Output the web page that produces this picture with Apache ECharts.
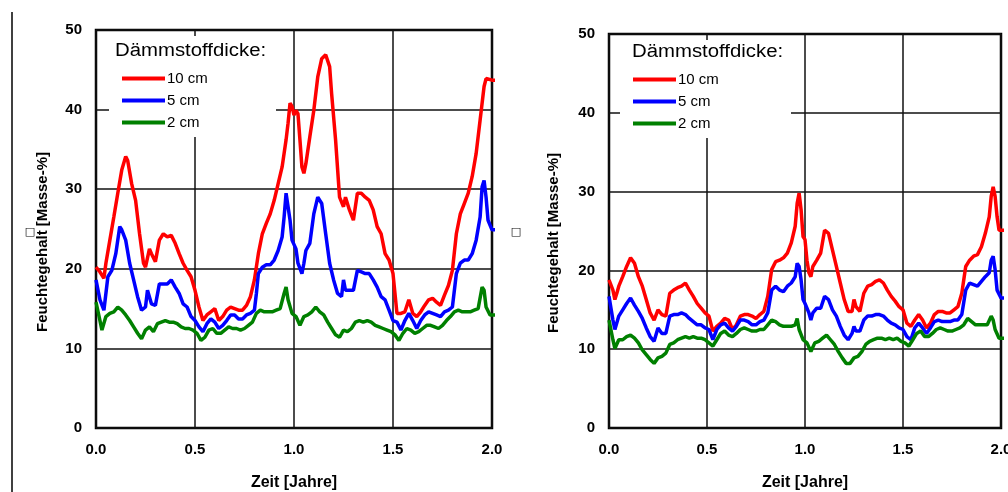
<!DOCTYPE html>
<html>
<head>
<meta charset="utf-8">
<script src="https://cdn.jsdelivr.net/npm/echarts@6/dist/echarts.min.js"></script>
<style>html,body{margin:0;padding:0;background:#fff;}#c{width:1008px;height:492px;}</style>
</head>
<body>
<div id="c"></div>
<script>
// ---- data (time in years, moisture in Masse-%) ----
const seriesNames = ['10 cm', '5 cm', '2 cm'];
const xTicks = [0, 0.5, 1.0, 1.5, 2.0];
const yTicks = [0, 10, 20, 30, 40, 50];

// left chart
const L10 = [[0,20.2],[0.02,19.6],[0.04,18.8],[0.05,20.7],[0.07,23.6],[0.09,26.5],[0.11,29.5],[0.13,32.4],[0.15,34.1],[0.16,33.6],[0.18,30.7],[0.2,28.6],[0.22,24.4],[0.24,20.7],[0.25,20.2],[0.27,22.5],[0.28,21.9],[0.3,20.9],[0.32,23.6],[0.34,24.4],[0.36,24.0],[0.38,24.2],[0.4,23.2],[0.42,21.9],[0.44,20.7],[0.46,19.8],[0.48,19.0],[0.5,17.3],[0.52,15.2],[0.54,13.5],[0.56,14.2],[0.58,14.6],[0.6,15.0],[0.62,13.5],[0.64,14.0],[0.66,14.8],[0.68,15.2],[0.7,15.0],[0.72,14.8],[0.74,14.8],[0.76,15.4],[0.78,16.5],[0.8,18.6],[0.82,21.9],[0.84,24.4],[0.86,25.7],[0.88,26.9],[0.9,28.6],[0.92,30.7],[0.94,32.8],[0.96,36.2],[0.97,38.3],[0.98,40.8],[0.99,40.4],[1.0,39.3],[1.01,39.9],[1.02,39.5],[1.03,36.2],[1.04,32.8],[1.05,32.0],[1.06,33.2],[1.08,36.6],[1.1,39.9],[1.12,44.1],[1.14,46.4],[1.16,46.9],[1.18,45.4],[1.19,42.0],[1.21,36.2],[1.23,29.0],[1.25,27.8],[1.26,29.0],[1.28,27.4],[1.3,26.1],[1.32,29.5],[1.34,29.5],[1.36,29.0],[1.38,28.6],[1.4,27.4],[1.42,25.3],[1.44,24.4],[1.46,21.9],[1.48,21.1],[1.5,19.4],[1.52,14.4],[1.54,14.4],[1.56,14.6],[1.58,16.1],[1.6,14.4],[1.62,14.0],[1.64,14.6],[1.66,15.4],[1.68,16.1],[1.7,16.3],[1.72,15.8],[1.74,15.4],[1.76,16.7],[1.78,17.9],[1.8,19.8],[1.82,24.4],[1.84,26.9],[1.86,28.2],[1.88,29.5],[1.9,31.6],[1.92,34.5],[1.94,38.7],[1.96,42.9],[1.97,43.9],[1.98,43.9],[2.0,43.7],[2.025,43.7]];
const L5 = [[0,18.6],[0.02,16.1],[0.04,14.8],[0.06,19.0],[0.08,19.8],[0.1,21.9],[0.12,25.3],[0.13,24.9],[0.15,23.6],[0.17,20.7],[0.19,18.6],[0.21,16.5],[0.23,14.8],[0.25,15.2],[0.26,17.3],[0.28,15.6],[0.3,15.4],[0.32,18.1],[0.34,18.1],[0.36,18.1],[0.38,18.6],[0.4,17.7],[0.42,16.9],[0.44,15.6],[0.46,15.2],[0.48,14.0],[0.5,13.5],[0.52,12.7],[0.54,12.1],[0.56,13.1],[0.58,13.7],[0.6,13.3],[0.62,12.5],[0.64,12.9],[0.66,13.5],[0.68,14.2],[0.7,14.2],[0.72,13.7],[0.74,13.7],[0.76,14.2],[0.78,14.4],[0.8,14.8],[0.81,16.9],[0.82,19.4],[0.84,20.2],[0.86,20.5],[0.88,20.5],[0.9,21.1],[0.92,22.3],[0.94,24.0],[0.95,26.5],[0.96,29.5],[0.97,29.5],[0.98,26.1],[0.99,23.6],[1.0,23.6],[1.01,22.5],[1.02,20.7],[1.04,19.4],[1.05,20.7],[1.06,22.3],[1.08,23.2],[1.1,26.9],[1.12,29.0],[1.14,28.2],[1.16,24.4],[1.18,20.7],[1.2,18.6],[1.22,16.9],[1.24,16.5],[1.25,18.6],[1.26,17.3],[1.28,17.3],[1.3,17.3],[1.32,19.8],[1.34,19.6],[1.36,19.4],[1.38,19.4],[1.4,18.6],[1.42,17.7],[1.44,16.5],[1.46,16.1],[1.48,14.8],[1.5,13.5],[1.52,13.3],[1.54,12.3],[1.56,13.5],[1.58,14.4],[1.6,13.5],[1.62,12.5],[1.64,13.5],[1.66,14.2],[1.68,14.6],[1.7,14.4],[1.72,14.2],[1.74,14.0],[1.76,14.6],[1.78,14.8],[1.8,15.2],[1.82,19.4],[1.84,20.7],[1.86,21.1],[1.88,21.1],[1.9,21.9],[1.92,23.6],[1.94,26.5],[1.95,30.3],[1.96,31.1],[1.97,29.0],[1.98,26.1],[2.0,24.9],[2.025,24.9]];
const L2 = [[0,15.8],[0.02,13.5],[0.03,12.3],[0.05,14.0],[0.07,14.4],[0.09,14.6],[0.11,15.2],[0.13,14.8],[0.15,14.2],[0.17,13.5],[0.19,12.7],[0.21,11.9],[0.23,11.2],[0.25,12.3],[0.27,12.7],[0.29,12.1],[0.31,13.1],[0.33,13.3],[0.35,13.5],[0.37,13.3],[0.39,13.3],[0.41,13.1],[0.43,12.7],[0.45,12.5],[0.47,12.5],[0.49,12.3],[0.51,11.9],[0.53,11.0],[0.55,11.4],[0.57,12.3],[0.59,12.5],[0.61,11.9],[0.63,11.9],[0.65,12.3],[0.67,12.7],[0.69,12.5],[0.71,12.5],[0.73,12.3],[0.75,12.5],[0.77,12.9],[0.79,13.3],[0.81,14.4],[0.83,14.8],[0.85,14.6],[0.87,14.6],[0.89,14.6],[0.91,14.8],[0.93,15.0],[0.95,16.9],[0.96,17.7],[0.97,16.1],[0.99,14.4],[1.01,14.0],[1.03,12.9],[1.05,14.0],[1.07,14.2],[1.09,14.6],[1.11,15.2],[1.13,14.6],[1.15,14.2],[1.17,13.3],[1.19,12.5],[1.21,11.7],[1.23,11.4],[1.25,12.3],[1.27,12.1],[1.29,12.5],[1.31,13.3],[1.33,13.5],[1.35,13.3],[1.37,13.5],[1.39,13.3],[1.41,12.9],[1.43,12.7],[1.45,12.5],[1.47,12.3],[1.49,12.1],[1.51,11.7],[1.53,11.0],[1.55,11.9],[1.57,12.5],[1.59,12.3],[1.61,11.9],[1.63,12.1],[1.65,12.5],[1.67,12.9],[1.69,12.9],[1.71,12.7],[1.73,12.5],[1.75,12.9],[1.77,13.5],[1.79,14.0],[1.81,14.6],[1.83,14.8],[1.85,14.6],[1.87,14.6],[1.89,14.6],[1.91,14.8],[1.93,15.0],[1.95,17.7],[1.96,17.3],[1.97,15.2],[1.99,14.2],[2.0,14.2],[2.025,14.2]];

// right chart
const R10 = [[0,18.8],[0.02,17.5],[0.03,16.3],[0.04,17.1],[0.05,18.0],[0.07,19.2],[0.09,20.5],[0.11,21.6],[0.13,20.9],[0.15,19.2],[0.17,18.0],[0.19,16.3],[0.21,14.6],[0.23,13.7],[0.25,15.0],[0.27,14.4],[0.29,14.2],[0.31,17.1],[0.33,17.5],[0.35,17.8],[0.37,18.0],[0.39,18.4],[0.41,17.5],[0.43,16.7],[0.45,15.8],[0.47,15.2],[0.49,14.6],[0.51,14.2],[0.53,12.3],[0.55,12.9],[0.57,13.3],[0.59,13.9],[0.61,13.7],[0.63,12.5],[0.65,13.1],[0.67,14.2],[0.69,14.4],[0.71,14.4],[0.73,14.2],[0.75,13.9],[0.77,14.4],[0.79,14.8],[0.81,16.7],[0.83,20.1],[0.85,21.1],[0.87,21.3],[0.89,21.6],[0.91,22.2],[0.93,23.5],[0.95,25.6],[0.96,28.5],[0.97,29.8],[0.98,27.7],[0.99,24.3],[1.0,23.9],[1.01,21.3],[1.02,19.7],[1.03,19.2],[1.04,20.5],[1.06,21.3],[1.08,22.2],[1.1,25.1],[1.12,24.7],[1.14,22.6],[1.16,20.5],[1.18,18.4],[1.2,16.3],[1.22,14.8],[1.24,14.8],[1.25,16.3],[1.26,15.4],[1.28,14.8],[1.3,17.1],[1.32,18.0],[1.34,18.2],[1.36,18.6],[1.38,18.8],[1.4,18.4],[1.42,17.5],[1.44,16.7],[1.46,16.1],[1.48,15.4],[1.5,15.0],[1.52,13.3],[1.54,12.9],[1.56,13.7],[1.58,14.4],[1.6,13.7],[1.62,12.7],[1.64,13.3],[1.66,14.4],[1.68,14.8],[1.7,14.8],[1.72,14.6],[1.74,14.6],[1.76,15.0],[1.78,15.4],[1.8,17.1],[1.82,20.5],[1.84,21.3],[1.86,21.8],[1.88,22.0],[1.9,23.0],[1.92,24.7],[1.94,26.8],[1.95,29.4],[1.96,30.6],[1.97,29.4],[1.98,26.8],[1.99,25.1],[2.0,25.1],[2.02,25.1]];
const R5 = [[0,16.7],[0.02,13.7],[0.03,12.5],[0.05,14.2],[0.07,15.0],[0.09,15.8],[0.11,16.5],[0.13,15.6],[0.15,14.8],[0.17,13.9],[0.19,12.7],[0.21,11.6],[0.23,11.0],[0.25,12.7],[0.27,12.0],[0.29,12.0],[0.31,14.2],[0.33,14.4],[0.35,14.4],[0.37,14.6],[0.39,14.4],[0.41,13.9],[0.43,13.5],[0.45,13.1],[0.47,13.1],[0.49,12.7],[0.51,12.5],[0.53,11.2],[0.55,12.5],[0.57,13.1],[0.59,13.3],[0.61,12.7],[0.63,12.3],[0.65,12.9],[0.67,13.7],[0.69,13.7],[0.71,13.5],[0.73,13.1],[0.75,13.1],[0.77,13.5],[0.79,13.7],[0.81,14.6],[0.83,17.5],[0.85,18.0],[0.87,17.5],[0.89,17.3],[0.91,18.0],[0.93,18.4],[0.95,19.2],[0.96,20.9],[0.97,20.5],[0.98,18.8],[0.99,16.3],[1.0,15.8],[1.02,14.6],[1.03,13.7],[1.04,14.6],[1.06,15.2],[1.08,15.2],[1.1,16.7],[1.12,16.3],[1.14,15.0],[1.16,14.2],[1.18,12.9],[1.2,11.8],[1.22,11.2],[1.24,12.0],[1.25,12.9],[1.26,12.3],[1.28,12.3],[1.3,13.7],[1.32,14.2],[1.34,14.2],[1.36,14.4],[1.38,14.4],[1.4,14.2],[1.42,13.7],[1.44,13.3],[1.46,13.1],[1.48,12.7],[1.5,12.5],[1.52,11.6],[1.54,11.2],[1.56,12.7],[1.58,13.3],[1.6,12.7],[1.62,12.0],[1.64,12.7],[1.66,13.5],[1.68,13.7],[1.7,13.5],[1.72,13.5],[1.74,13.5],[1.76,13.7],[1.78,13.7],[1.8,14.4],[1.82,17.5],[1.84,18.4],[1.86,18.2],[1.88,18.0],[1.9,18.6],[1.92,19.2],[1.94,19.7],[1.95,21.3],[1.96,21.8],[1.97,20.1],[1.98,17.5],[2.0,16.5],[2.02,16.5]];
const R2 = [[0,13.7],[0.02,11.2],[0.03,10.1],[0.05,11.2],[0.07,11.2],[0.09,11.6],[0.11,11.8],[0.13,11.4],[0.15,10.8],[0.17,9.9],[0.19,9.3],[0.21,8.7],[0.23,8.2],[0.25,8.9],[0.27,9.1],[0.29,9.5],[0.31,10.6],[0.33,10.8],[0.35,11.2],[0.37,11.4],[0.39,11.6],[0.41,11.4],[0.43,11.6],[0.45,11.4],[0.47,11.4],[0.49,11.2],[0.51,10.8],[0.53,10.4],[0.55,11.2],[0.57,12.0],[0.59,12.3],[0.61,11.8],[0.63,11.6],[0.65,12.0],[0.67,12.5],[0.69,12.7],[0.71,12.5],[0.73,12.3],[0.75,12.3],[0.77,12.5],[0.79,12.5],[0.81,13.1],[0.83,13.7],[0.85,13.5],[0.87,13.1],[0.89,12.9],[0.91,12.9],[0.93,12.9],[0.95,13.1],[0.96,13.9],[0.97,12.5],[0.99,11.2],[1.01,10.8],[1.03,9.7],[1.05,10.8],[1.07,11.0],[1.09,11.4],[1.11,11.8],[1.13,11.2],[1.15,10.6],[1.17,9.7],[1.19,8.9],[1.21,8.2],[1.23,8.2],[1.25,8.9],[1.27,9.1],[1.29,9.7],[1.31,10.6],[1.33,11.0],[1.35,11.2],[1.37,11.4],[1.39,11.4],[1.41,11.2],[1.43,11.4],[1.45,11.2],[1.47,11.4],[1.49,11.0],[1.51,10.8],[1.53,10.4],[1.55,11.2],[1.57,12.0],[1.59,12.3],[1.61,11.6],[1.63,11.6],[1.65,12.0],[1.67,12.5],[1.69,12.7],[1.71,12.5],[1.73,12.3],[1.75,12.3],[1.77,12.5],[1.79,12.7],[1.81,13.1],[1.83,13.9],[1.85,13.5],[1.87,13.1],[1.89,13.1],[1.91,13.1],[1.93,13.1],[1.95,14.2],[1.96,13.7],[1.97,12.5],[1.99,11.4],[2.0,11.4],[2.02,11.4]];

const colors = ['#ff0000', '#0000ff', '#008000'];

// ---- chart ----
const chart = echarts.init(document.getElementById('c'), null, {renderer: 'canvas'});
const labelFont = {fontFamily: 'Liberation Sans', fontWeight: 'bold', fontSize: 15, color: '#000'};

function xAx(gi) {
  return {
    type: 'value', gridIndex: gi, min: 0, max: 2, interval: 0.5,
    axisLine: {show: false},
    axisTick: {show: false},
    splitLine: {show: true, lineStyle: {color: '#111', width: 1.5}},
    axisLabel: Object.assign({margin: 14, formatter: v => v.toFixed(1)}, labelFont),
    name: 'Zeit [Jahre]', nameLocation: 'middle', nameGap: 47,
    nameTextStyle: {fontFamily: 'Liberation Sans', fontWeight: 'bold', fontSize: 16, color: '#000'}
  };
}
function yAx(gi) {
  return {
    type: 'value', gridIndex: gi, min: 0, max: 50, interval: 10,
    axisLine: {show: false},
    axisTick: {show: false},
    splitLine: {show: true, lineStyle: {color: '#111', width: 1.5}},
    axisLabel: Object.assign({margin: 14}, labelFont)
  };
}
function line(name, data, ci, gi) {
  return {
    type: 'line', name: name, data: data, xAxisIndex: gi, yAxisIndex: gi,
    showSymbol: false, symbol: 'none', clip: false, z: 3,
    lineStyle: {color: colors[ci], width: 3.5}, itemStyle: {color: colors[ci]}
  };
}
function legend(left, top) {
  return {
    show: true, orient: 'vertical', left: left, top: top,
    icon: 'rect', itemWidth: 43, itemHeight: 4, itemGap: 7,
    data: seriesNames, selectedMode: false,
    textStyle: {fontFamily: 'Liberation Sans', fontSize: 15, color: '#000', padding: [0, 0, 0, -3]}
  };
}
function box(x, y, w, h) {
  return {type: 'rect', shape: {x: x, y: y, width: w, height: h}, style: {fill: '#fff'}, z: 1, silent: true};
}
function ttl(x, y) {
  return {type: 'text', x: x, y: y, scaleX: 1.13, z: 2,
    style: {text: 'Dämmstoffdicke:', font: '18px "Liberation Sans"', fill: '#000', verticalAlign: 'middle'}};
}
function yName(x, y) {
  return {type: 'text', x: x, y: y, rotation: Math.PI / 2, z: 2,
    style: {text: 'Feuchtegehalt [Masse-%]', font: 'bold 15px "Liberation Sans"', fill: '#000', align: 'center', verticalAlign: 'middle'}};
}
function sq(x, y) {
  return {type: 'text', x: x, y: y, z: 2,
    style: {text: '□', font: '11px "DejaVu Sans"', fill: '#000', align: 'center', verticalAlign: 'middle'}};
}

chart.setOption({
  animation: false,
  backgroundColor: '#fff',
  grid: [
    {left: 96, top: 30, width: 396, height: 398, outerBoundsMode: 'none', containLabel: false, show: true, borderColor: '#000', borderWidth: 2.5, backgroundColor: 'transparent'},
    {left: 609, top: 34, width: 392, height: 394, outerBoundsMode: 'none', containLabel: false, show: true, borderColor: '#000', borderWidth: 2.5, backgroundColor: 'transparent'}
  ],
  xAxis: [xAx(0), xAx(1)],
  yAxis: [yAx(0), yAx(1)],
  legend: [legend(117, 66), legend(628, 67)],
  series: [
    line(seriesNames[0], L10, 0, 0), line(seriesNames[1], L5, 1, 0), line(seriesNames[2], L2, 2, 0),
    line(seriesNames[0], R10, 0, 1), line(seriesNames[1], R5, 1, 1), line(seriesNames[2], R2, 2, 1)
  ],
  graphic: [
    box(109, 36, 167, 101), box(620, 40, 171, 98),
    ttl(115, 51), ttl(632, 52),
    yName(43, 242), yName(554, 243),
    sq(30, 232), sq(516, 232),
    {type: 'line', shape: {x1: 12, y1: 12, x2: 12, y2: 492}, style: {stroke: '#000', lineWidth: 1.5}, z: 2}
  ]
});
</script>
</body>
</html>
